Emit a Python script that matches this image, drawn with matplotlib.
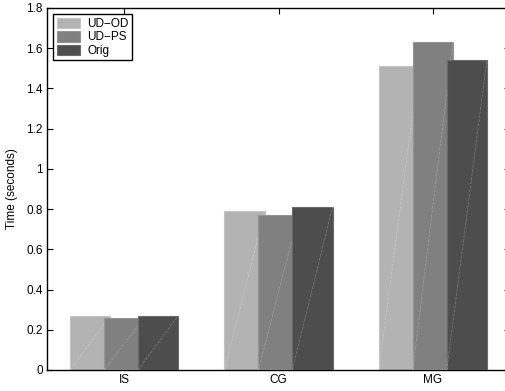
import numpy as np
import matplotlib
matplotlib.use("Agg")
import matplotlib.pyplot as plt

benchmarks = ["IS", "CG", "MG"]
series = ["UD\u2212OD", "UD\u2212PS", "Orig"]
ud_od = [0.27, 0.79, 1.51]
ud_ps = [0.26, 0.77, 1.63]
orig = [0.27, 0.81, 1.54]
yticks = [0, 0.2, 0.4, 0.6, 0.8, 1, 1.2, 1.4, 1.6, 1.8]
ytick_labels = ["0", "0.2", "0.4", "0.6", "0.8", "1", "1.2", "1.4", "1.6", "1.8"]

colors = ["#b3b3b3", "#808080", "#4d4d4d"]
edges = ["#c4c4c4", "#949494", "#6a6a6a"]

plt.rcParams['font.family'] = ['Liberation Sans', 'DejaVu Sans']
plt.rcParams['font.size'] = 8.5

fig = plt.figure(figsize=(5.05, 3.91), dpi=100)
ax = fig.add_axes([47 / 505, 1 - 370 / 391, (510 - 47) / 505, (370 - 8) / 391])

x = np.arange(1, len(benchmarks) + 1)
width = 0.26
step = 0.22
for i, (name, vals) in enumerate(zip(series, [ud_od, ud_ps, orig])):
    pos = x + (i - 1) * step
    ax.bar(pos, vals, width=width, color=colors[i], edgecolor=edges[i],
           linewidth=0.8, label=name, zorder=2 + i)
    for p, v in zip(pos, vals):
        ax.plot([p - width / 2, p + width / 2], [0, v], color="white",
                lw=0.5, alpha=0.3, ls=(0, (4, 2)), zorder=2 + i)

ax.set_xlim(0.5, 3.5)
ax.set_ylim(0, 1.8)
ax.set_xticks(x)
ax.set_xticklabels(benchmarks)
ax.set_yticks(yticks)
ax.set_yticklabels(ytick_labels)
ax.set_ylabel("Time (seconds)", labelpad=6)
ax.tick_params(direction="in", top=True, right=True, length=4, width=0.8, pad=3)
ax.spines["right"].set_visible(False)
for s in ["left", "bottom", "top"]:
    ax.spines[s].set_linewidth(1.0)

leg = ax.legend(loc="upper left", bbox_to_anchor=(0.008, 0.99), fancybox=False,
                edgecolor="black", framealpha=1, borderpad=0.3, labelspacing=0.1,
                handlelength=2.0, handleheight=1.0, handletextpad=0.6,
                borderaxespad=0.2)
leg.get_frame().set_linewidth(1.0)

fig.savefig("out.png", dpi=100)
